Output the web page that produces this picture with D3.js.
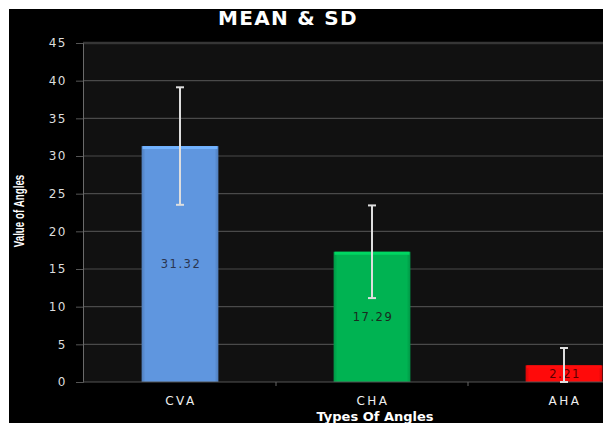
<!DOCTYPE html>
<html><head><meta charset="utf-8">
<script src="https://cdn.jsdelivr.net/npm/d3@7"></script>
<style>
html,body{margin:0;padding:0;background:#fff;overflow:hidden;}
svg{display:block;}
</style></head>
<body>
<script>
const categories = ["CVA", "CHA", "AHA"];
const means = [31.32, 17.29, 2.21];
const sds = [7.8, 6.15, 2.3];
const valueLabels = ["31.32", "17.29", "2.21"];
const yTicks = [0, 5, 10, 15, 20, 25, 30, 35, 40, 45];
const barColors = ["#5f96df", "#00b352", "#ff0a0a"];
const titleText = "MEAN & SD";
const yTitle = "Value of Angles";
const xTitle = "Types Of Angles";

const W = 603, H = 423;
const svg = d3.select("body").append("svg").attr("width", W).attr("height", H);
svg.append("rect").attr("x", 9).attr("y", 9).attr("width", W - 9).attr("height", H - 9).attr("fill", "#000");

const plot = {left: 83, right: 660, top: 43, bottom: 382};
const x = d3.scaleBand().domain(categories).range([84, 660]).paddingInner(0.6).paddingOuter(0.3);
const y = d3.scaleLinear().domain([0, 45]).range([plot.bottom, plot.top]);

// plot area
svg.append("rect").attr("x", plot.left).attr("y", plot.top).attr("width", W - plot.left).attr("height", plot.bottom - plot.top).attr("fill", "#111");

// gridlines
svg.append("g").selectAll("line").data(yTicks.filter(t => t > 0)).join("line")
  .attr("x1", plot.left).attr("x2", W)
  .attr("y1", d => y(d)).attr("y2", d => y(d))
  .attr("stroke", d => d === 45 ? "#363636" : "#4a4a4a")
  .attr("stroke-width", d => d === 45 ? 2.5 : 1.2);

// y axis
const yAxis = d3.axisLeft(y).tickValues(yTicks).tickSize(7).tickPadding(9);
const gy = svg.append("g").attr("transform", `translate(${plot.left},0)`).call(yAxis);
gy.select(".domain").attr("stroke", "#6a6a6a").attr("stroke-width", 1);
gy.selectAll(".tick line").attr("stroke", "#555");
gy.selectAll(".tick text").attr("fill", "#ddd").style("font-family", "DejaVu Sans, Verdana, sans-serif").style("font-size", "12px").style("letter-spacing", "1.5px");

// defs gradients
const defs = svg.append("defs");
barColors.forEach((c, i) => {
  const g = defs.append("linearGradient").attr("id", "bg" + i).attr("x1", 0).attr("x2", 1).attr("y1", 0).attr("y2", 0);
  const base = d3.color(c);
  g.append("stop").attr("offset", "0%").attr("stop-color", base.darker(0.5));
  g.append("stop").attr("offset", "5%").attr("stop-color", base);
  g.append("stop").attr("offset", "95%").attr("stop-color", base);
  g.append("stop").attr("offset", "100%").attr("stop-color", base.darker(0.5));
});

// bars
const bars = svg.append("g");
categories.forEach((cat, i) => {
  const bx = x(cat), bw = x.bandwidth(), top = y(means[i]);
  bars.append("rect").attr("x", bx).attr("y", top).attr("width", bw).attr("height", plot.bottom - top).attr("fill", `url(#bg${i})`);
  bars.append("rect").attr("x", bx + 1).attr("y", top).attr("width", bw - 2).attr("height", 3).attr("fill", d3.color(barColors[i]).brighter(0.5));
});

// x axis line
svg.append("line").attr("x1", plot.left).attr("x2", W).attr("y1", plot.bottom).attr("y2", plot.bottom).attr("stroke", "#555").attr("stroke-width", 1.2);
// tick separators
svg.append("g").selectAll("line").data(categories.slice(1)).join("line")
  .attr("x1", d => x(d) - (x.step() - x.bandwidth()) / 2)
  .attr("x2", d => x(d) - (x.step() - x.bandwidth()) / 2)
  .attr("y1", plot.bottom).attr("y2", plot.bottom + 4).attr("stroke", "#666");

// value labels
svg.append("g").selectAll("text").data(categories).join("text")
  .attr("x", d => x(d) + x.bandwidth() / 2 + 1)
  .attr("y", (d, i) => (y(means[i]) + plot.bottom) / 2 + 4)
  .attr("text-anchor", "middle")
  .attr("fill", (d, i) => i === 0 ? "#2a3550" : (i === 2 ? "#5a0000" : "#1a2a20"))
  .style("font-family", "DejaVu Sans, Verdana, sans-serif").style("font-size", "11.5px").style("letter-spacing", "1.5px")
  .text((d, i) => valueLabels[i]);

// error bars
const eb = svg.append("g").attr("stroke", "#dedede").attr("stroke-width", 2);
categories.forEach((cat, i) => {
  const cx = x(cat) + x.bandwidth() / 2;
  const hi = y(means[i] + sds[i]), lo = y(Math.max(0, means[i] - sds[i]));
  eb.append("line").attr("x1", cx).attr("x2", cx).attr("y1", hi).attr("y2", lo);
  eb.append("line").attr("x1", cx - 4).attr("x2", cx + 4).attr("y1", hi).attr("y2", hi);
  eb.append("line").attr("x1", cx - 4).attr("x2", cx + 4).attr("y1", lo).attr("y2", lo);
});

// x tick labels
svg.append("g").selectAll("text").data(categories).join("text")
  .attr("x", d => x(d) + x.bandwidth() / 2 + 1).attr("y", 405)
  .attr("text-anchor", "middle").attr("fill", "#eee")
  .style("font-family", "DejaVu Sans, Verdana, sans-serif").style("font-size", "12px").style("letter-spacing", "2.5px")
  .text(d => d);

// titles
svg.append("text").attr("x", 288).attr("y", 25).attr("text-anchor", "middle").attr("fill", "#fff")
  .style("font-family", "DejaVu Sans, Verdana, sans-serif").style("font-size", "20px").style("font-weight", "bold").style("letter-spacing", "1.3px")
  .text(titleText);
svg.append("text").attr("transform", "translate(24,211) rotate(-90) scale(0.7,1)").attr("text-anchor", "middle").attr("fill", "#fff")
  .style("font-family", "Liberation Sans, Arial, sans-serif")
  .style("font-size", "14px").style("font-weight", "bold")
  .text(yTitle);
svg.append("text").attr("x", 375).attr("y", 421).attr("text-anchor", "middle").attr("fill", "#fff")
  .style("font-family", "DejaVu Sans, Verdana, sans-serif").style("font-size", "13px").style("font-weight", "bold")
  .text(xTitle);
</script>
</body></html>
